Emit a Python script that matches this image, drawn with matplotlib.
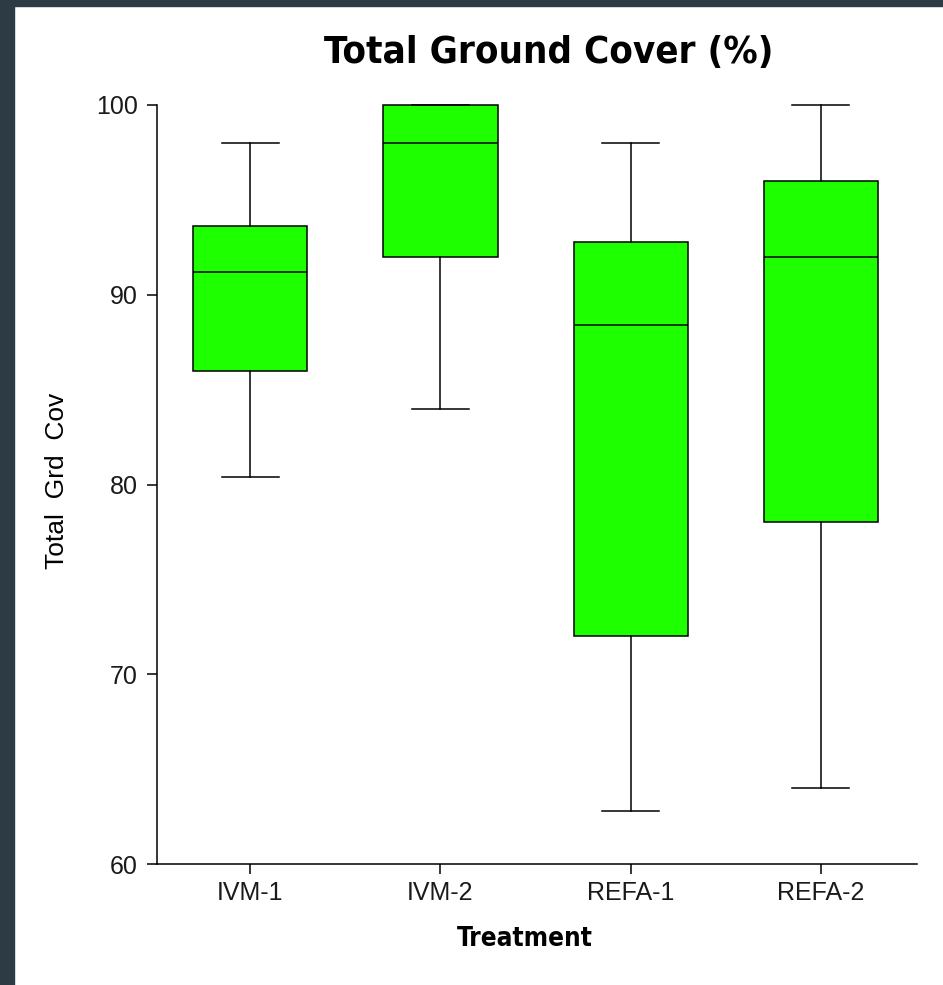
import matplotlib
matplotlib.use("Agg")
import matplotlib.pyplot as plt
from matplotlib.patches import Rectangle

treatments = ["IVM-1", "IVM-2", "REFA-1", "REFA-2"]
whisker_low = [80.4, 84.0, 62.8, 64.0]
q1 = [86.0, 92.0, 72.0, 78.0]
medians = [91.2, 98.0, 88.4, 92.0]
q3 = [93.6, 100.0, 92.8, 96.0]
whisker_high = [98.0, 100.0, 98.0, 100.0]
yticks = [60, 70, 80, 90, 100]

W, H = 943, 985
fig = plt.figure(figsize=(W / 100, H / 100), dpi=100)
fig.patch.set_facecolor("white")

# dark frame strips from the screenshot
frame = "#2c3b44"
fig.patches.append(Rectangle((0, 0), 14 / W, 1, transform=fig.transFigure,
                             color=frame, zorder=0))
fig.patches.append(Rectangle((0, 1 - 6 / H), 1, 6 / H, transform=fig.transFigure,
                             color=frame, zorder=0))

ax = fig.add_axes([157 / W, 1 - 864 / H, (917 - 157) / W, (864 - 105) / H])

stats = []
for i, name in enumerate(treatments):
    stats.append(dict(label=name, whislo=whisker_low[i], q1=q1[i], med=medians[i],
                      q3=q3[i], whishi=whisker_high[i], fliers=[]))

art = ax.bxp(stats, positions=range(1, len(treatments) + 1), widths=0.6,
             patch_artist=True, showfliers=False,
             boxprops=dict(facecolor="#1eff00", edgecolor="black", linewidth=1.1),
             medianprops=dict(color="black", linewidth=1.1),
             whiskerprops=dict(color="black", linewidth=1.1),
             capprops=dict(color="black", linewidth=1.1))
for group in art.values():
    for a in group:
        a.set_clip_on(False)

ax.set_xlim(0.51, 4.505)
ax.set_ylim(60, 100)
ax.set_yticks(yticks)
ax.set_xticks(range(1, len(treatments) + 1))
ax.set_xticklabels(treatments)

for s in ["top", "right"]:
    ax.spines[s].set_visible(False)
for s in ["left", "bottom"]:
    ax.spines[s].set_linewidth(1.1)

ax.tick_params(axis="both", direction="out", length=7, width=1.1,
               labelsize=18, colors="black")
ax.tick_params(axis="x", pad=5)
ax.tick_params(axis="y", pad=7)
for lab in ax.get_xticklabels() + ax.get_yticklabels():
    lab.set_family("Liberation Sans")
    lab.set_color("#1a1a1a")

fig.text(549 / W, 1 - 53 / H, "Total Ground Cover (%)", ha="center", va="center",
         fontsize=27.5, fontweight="bold", family="DejaVu Sans", fontstretch="condensed")
fig.text(525 / W, 1 - 939 / H, "Treatment", ha="center", va="center",
         fontsize=18.7, fontweight="bold", family="DejaVu Sans", fontstretch="condensed")
fig.text(57 / W, 1 - 481 / H, "Total  Grd  Cov", ha="center", va="center",
         rotation=90, fontsize=19, family="Liberation Sans")

fig.savefig("out.png", dpi=100)
